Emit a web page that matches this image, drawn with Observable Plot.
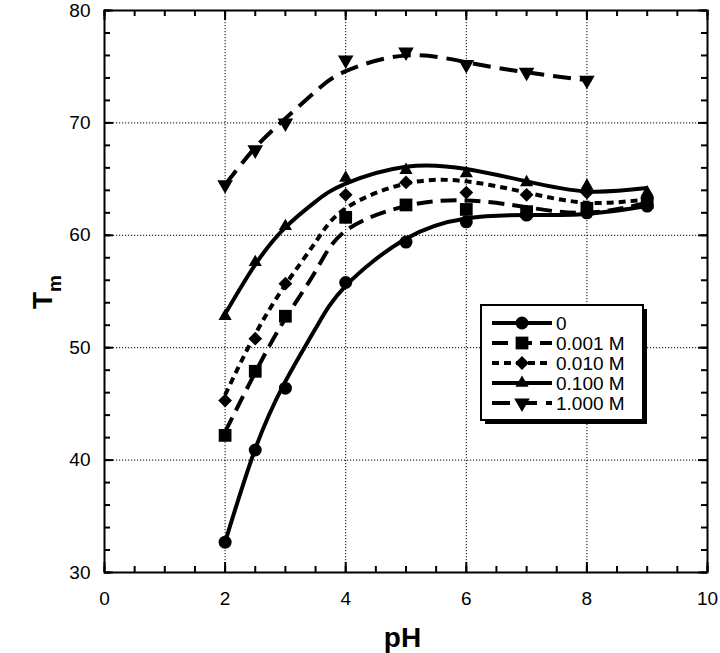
<!DOCTYPE html>
<html><head><meta charset="utf-8">
<script src="https://cdn.jsdelivr.net/npm/d3@7"></script>
<script src="https://cdn.jsdelivr.net/npm/@observablehq/plot@0.6"></script>
<style>
body{margin:0;background:#fff}
#chart{position:relative;width:720px;height:653px}
</style>
</head><body><div id="chart"></div>
<script>
// ---- data ----
const seriesNames = ["0", "0.001 M", "0.010 M", "0.100 M", "1.000 M"];
const pH = [2, 2.5, 3, 4, 5, 6, 7, 8, 9];
const tm0   = [32.7, 40.9, 46.4, 55.8, 59.4, 61.2, 61.8, 62.0, 62.6];
const tm001 = [42.2, 47.9, 52.8, 61.6, 62.7, 62.3, 62.1, 62.4, 62.9];
const tm010 = [45.3, 50.8, 55.7, 63.6, 64.7, 63.8, 63.6, 63.8, 63.3];
const tm100 = [52.8, 57.6, 60.8, 65.1, 65.8, 65.5, 64.7, 64.4, 63.8];
const pH1000 = [2, 2.5, 3, 4, 5, 6, 7, 8];
const tm1000 = [64.5, 67.6, 70.0, 75.6, 76.3, 75.2, 74.5, 73.8];

// fitted curves
const fitPH = [2, 2.5, 3, 3.5, 4, 5, 6, 7, 8, 9];
const fit0   = [32.7, 41.0, 47.0, 51.7, 55.5, 59.7, 61.5, 61.8, 61.9, 62.6];
const fit001 = [42.5, 47.8, 52.6, 56.8, 60.4, 62.6, 63.1, 62.5, 62.0, 62.9];
const fit010 = [45.8, 51.2, 55.6, 59.4, 62.4, 64.6, 64.8, 63.8, 62.9, 63.2];
const fit100 = [53.0, 57.4, 60.7, 63.0, 64.6, 66.1, 65.9, 64.8, 63.9, 64.2];
const fitPH1000 = [2, 2.5, 3, 3.5, 4, 5, 6, 7, 8];
const fit1000 = [64.5, 67.8, 70.4, 72.8, 74.6, 76.0, 75.4, 74.5, 73.8];

const xDomain = [0, 10];
const yDomain = [30, 80];
const xMajor = [0, 2, 4, 6, 8, 10];
const xMinor = d3.range(0, 10.01, 0.5);
const yMajor = [30, 40, 50, 60, 70, 80];
const yMinor = d3.range(30, 80.01, 2);
const xGrid = [2, 4, 6, 8];
const yGrid = [40, 50, 60, 70];

// ---- layout & styles ----
const W = 720, H = 653, mL = 104, mR = 13, mT = 10, mB = 81;
const fh = H - mT - mB, fw = W - mL - mR;
const pxY = (yDomain[1] - yDomain[0]) / fh;   // data units per pixel (y)
const pxX = (xDomain[1] - xDomain[0]) / fw;   // data units per pixel (x)
const FONT = "'Liberation Sans', Arial, Helvetica, sans-serif";
const sty = [
  {symbol: "circle", d3sym: d3.symbolCircle, r: 6.5, dash: null, rotate: 0},
  {symbol: "square", d3sym: d3.symbolSquare, r: 7.2, dash: "16,8", rotate: 0},
  {symbol: "diamond2", d3sym: d3.symbolDiamond2, r: 6.2, dash: "7,5", rotate: 0},
  {symbol: "triangle", d3sym: d3.symbolTriangle, r: 4.9, dash: null, rotate: 0},
  {symbol: "triangle", d3sym: d3.symbolTriangle, r: 5.8, dash: "18,9", rotate: 180}
];

const pts = [
  pH.map((x, i) => ({x, y: tm0[i]})),
  pH.map((x, i) => ({x, y: tm001[i]})),
  pH.map((x, i) => ({x, y: tm010[i]})),
  pH.map((x, i) => ({x, y: tm100[i]})),
  pH1000.map((x, i) => ({x, y: tm1000[i]}))
];
const fits = [
  fitPH.map((x, i) => ({x, y: fit0[i]})),
  fitPH.map((x, i) => ({x, y: fit001[i]})),
  fitPH.map((x, i) => ({x, y: fit010[i]})),
  fitPH.map((x, i) => ({x, y: fit100[i]})),
  fitPH1000.map((x, i) => ({x, y: fit1000[i]}))
];

const lineMarks = fits.map((f, i) => Plot.line(f, {
  x: "x", y: "y", curve: "natural", stroke: "black", strokeWidth: 4,
  strokeDasharray: sty[i].dash || undefined, strokeLinecap: "butt"
}));
const dotMarks = pts.map((p, i) => Plot.dot(p, {
  x: "x", y: "y", symbol: sty[i].symbol, r: sty[i].r, fill: "black", stroke: "none",
  rotate: sty[i].rotate
}));

const tk = {stroke: "black", strokeWidth: 2};
const tickMarks = [
  // x ticks (bottom / top), inward
  Plot.ruleX(xMinor, {x: d => d, y1: yDomain[0], y2: yDomain[0] + 6 * pxY, ...tk}),
  Plot.ruleX(xMinor, {x: d => d, y1: yDomain[1], y2: yDomain[1] - 6 * pxY, ...tk}),
  Plot.ruleX(xMajor, {x: d => d, y1: yDomain[0], y2: yDomain[0] + 10 * pxY, ...tk}),
  Plot.ruleX(xMajor, {x: d => d, y1: yDomain[1], y2: yDomain[1] - 10 * pxY, ...tk}),
  // y ticks (left / right), inward
  Plot.ruleY(yMinor, {y: d => d, x1: xDomain[0], x2: xDomain[0] + 6 * pxX, ...tk}),
  Plot.ruleY(yMinor, {y: d => d, x1: xDomain[1], x2: xDomain[1] - 6 * pxX, ...tk}),
  Plot.ruleY(yMajor, {y: d => d, x1: xDomain[0], x2: xDomain[0] + 9 * pxX, ...tk}),
  Plot.ruleY(yMajor, {y: d => d, x1: xDomain[1], x2: xDomain[1] - 9 * pxX, ...tk})
];

const plot = Plot.plot({
  width: W, height: H,
  marginLeft: mL, marginRight: mR, marginTop: mT, marginBottom: mB,
  style: {fontFamily: FONT, background: "white", color: "black"},
  x: {domain: xDomain},
  y: {domain: yDomain},
  marks: [
    Plot.gridX(xGrid, {stroke: "black", strokeOpacity: 1, strokeWidth: 1, strokeDasharray: "1.2,1.8"}),
    Plot.gridY(yGrid, {stroke: "black", strokeOpacity: 1, strokeWidth: 1, strokeDasharray: "1.2,1.8"}),
    ...tickMarks,
    Plot.axisX(xMajor, {tickSize: 0, tickPadding: 19, fontSize: 19, label: null}),
    Plot.axisY(yMajor, {tickSize: 0, tickPadding: 14, fontSize: 19, label: null}),
    ...lineMarks,
    ...dotMarks,
    Plot.frame({stroke: "black", strokeWidth: 2})
  ]
});
document.getElementById("chart").appendChild(plot);

const svg = d3.select(plot);
// axis titles
svg.append("text").attr("x", (mL + W - mR) / 2 - 3).attr("y", 647)
  .attr("text-anchor", "middle").attr("font-size", 28).attr("font-weight", "bold")
  .attr("font-family", FONT).attr("fill", "black").text("pH");
const yt = svg.append("text").attr("transform", "translate(52,292) rotate(-90)")
  .attr("text-anchor", "middle").attr("font-family", FONT).attr("font-weight", "bold").attr("fill", "black");
yt.append("tspan").attr("font-size", 28).text("T");
yt.append("tspan").attr("font-size", 19).attr("dy", 9).text("m");

// legend
const lg = svg.append("g");
const bx = 481, by = 305, bw = 162, bh = 115;
lg.append("rect").attr("x", bx + 4).attr("y", by + 4).attr("width", bw).attr("height", bh).attr("fill", "black");
lg.append("rect").attr("x", bx).attr("y", by).attr("width", bw).attr("height", bh)
  .attr("fill", "white").attr("stroke", "black").attr("stroke-width", 2);
seriesNames.forEach((name, i) => {
  const yy = by + 18 + i * 20;
  lg.append("line").attr("x1", bx + 11).attr("x2", bx + 71).attr("y1", yy).attr("y2", yy)
    .attr("stroke", "black").attr("stroke-width", 4)
    .attr("stroke-dasharray", sty[i].dash || null);
  lg.append("path").attr("d", d3.symbol().type(sty[i].d3sym).size(sty[i].r * sty[i].r * Math.PI)())
    .attr("transform", `translate(${bx + 41},${yy}) rotate(${sty[i].rotate})`).attr("fill", "black");
  lg.append("text").attr("x", bx + 75).attr("y", yy + 7).attr("font-size", 19)
    .attr("text-anchor", "start")
    .attr("font-family", FONT).attr("fill", "black").text(name);
});
</script></body></html>
